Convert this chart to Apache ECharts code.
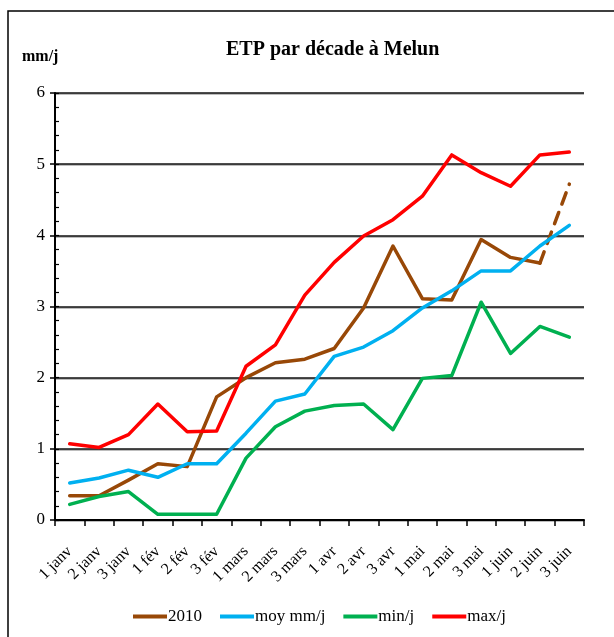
<!DOCTYPE html>
<html>
<head>
<meta charset="utf-8">
<script src="https://cdn.jsdelivr.net/npm/echarts@6/dist/echarts.min.js"></script>
<style>
html,body{margin:0;padding:0;background:#fff;}
#chart{width:614px;height:637px;}
</style>
</head>
<body>
<div id="chart"></div>
<script>
const categories = ['1 janv','2 janv','3 janv','1 fév','2 fév','3 fév','1 mars','2 mars','3 mars','1 avr','2 avr','3 avr','1 mai','2 mai','3 mai','1 juin','2 juin','3 juin'];
const values2010 = [0.34,0.34,0.56,0.79,0.75,1.73,2.0,2.21,2.26,2.41,2.98,3.85,3.11,3.09,3.94,3.69,3.61,4.72];
const valuesMoy  = [0.52,0.59,0.70,0.60,0.79,0.79,1.22,1.67,1.77,2.30,2.43,2.66,2.98,3.22,3.50,3.50,3.85,4.14];
const valuesMin  = [0.22,0.33,0.40,0.08,0.08,0.08,0.87,1.31,1.53,1.61,1.63,1.27,1.99,2.03,3.06,2.34,2.72,2.57];
const valuesMax  = [1.07,1.02,1.20,1.63,1.24,1.25,2.16,2.46,3.16,3.62,3.99,4.22,4.55,5.13,4.88,4.69,5.13,5.17];
const yTicks = [0,1,2,3,4,5,6];

const n = values2010.length;
const solid2010 = values2010.map((v,i)=> i < n-1 ? v : null);
const dashed2010 = values2010.map((v,i)=> i >= n-2 ? v : null);

const FONT = '"Liberation Serif", "Times New Roman", serif';
const chart = echarts.init(document.getElementById('chart'), null, {renderer:'canvas'});

function lineSeries(name, data, color, dashed){
  return {
    name: name, type: 'line', data: data, symbol: 'none', showSymbol: false,
    connectNulls: false, animation: false,
    itemStyle: {color: color},
    lineStyle: {color: color, width: 3.5, cap: 'round', join: 'round', type: dashed ? [12, 9] : 'solid'},
    emphasis: {disabled: true}
  };
}

chart.setOption({
  animation: false,
  backgroundColor: '#fff',
  graphic: [
    {type:'rect', shape:{x:8, y:11, width:700, height:700}, style:{fill:'none', stroke:'#000', lineWidth:1.5}, z: -1},
    {type:'text', left: 22, top: 49, style:{text:'mm/j', font:'bold 16px ' + FONT, fill:'#000'}}
  ],
  title: {
    text: 'ETP par décade à Melun', left: 221, top: 35,
    textStyle: {fontFamily: FONT, fontWeight: 'bold', fontSize: 20, color: '#000'}
  },
  legend: {
    data: ['2010','moy mm/j','min/j','max/j'],
    left: 128, top: 603, icon: 'rect', itemWidth: 34, itemHeight: 4, itemGap: 18,
    textStyle: {fontFamily: FONT, fontSize: 17, color: '#000', padding: [0,0,0,-4]}
  },
  grid: {left: 55, right: 30, top: 93, bottom: 117, containLabel: false},
  xAxis: {
    type: 'category', data: categories, boundaryGap: true,
    axisLine: {lineStyle: {color: '#000', width: 2}},
    axisTick: {show: true, interval: 0, length: 6, lineStyle: {color: '#000', width: 1.5}},
    axisLabel: {interval: 0, rotate: 45, margin: 29, fontFamily: FONT, fontSize: 16, color: '#000'},
    splitLine: {show: false}
  },
  yAxis: [{
    type: 'value', min: yTicks[0], max: yTicks[yTicks.length-1], interval: 1,
    axisLine: {show: true, lineStyle: {color: '#000', width: 2}},
    axisTick: {show: true, length: 5, lineStyle: {color: '#000', width: 1.5}},
    axisLabel: {margin: 10, fontFamily: FONT, fontSize: 17, color: '#000'},
    splitLine: {show: true, lineStyle: {color: '#111', width: 1.5, shadowColor: 'rgba(0,0,0,0.35)', shadowOffsetY: 1}}
  },{
    type: 'value', min: yTicks[0], max: yTicks[yTicks.length-1], interval: 0.2, position: 'left',
    axisLine: {show: false},
    axisTick: {show: true, inside: true, length: 4, lineStyle: {color: '#000', width: 1.2}},
    axisLabel: {show: false},
    splitLine: {show: false}
  }],
  series: [
    lineSeries('2010', solid2010, '#984807', false),
    lineSeries('2010', dashed2010, '#984807', true),
    lineSeries('moy mm/j', valuesMoy, '#00B0F0', false),
    lineSeries('min/j', valuesMin, '#00B050', false),
    lineSeries('max/j', valuesMax, '#FF0000', false)
  ]
});
</script>
</body>
</html>
